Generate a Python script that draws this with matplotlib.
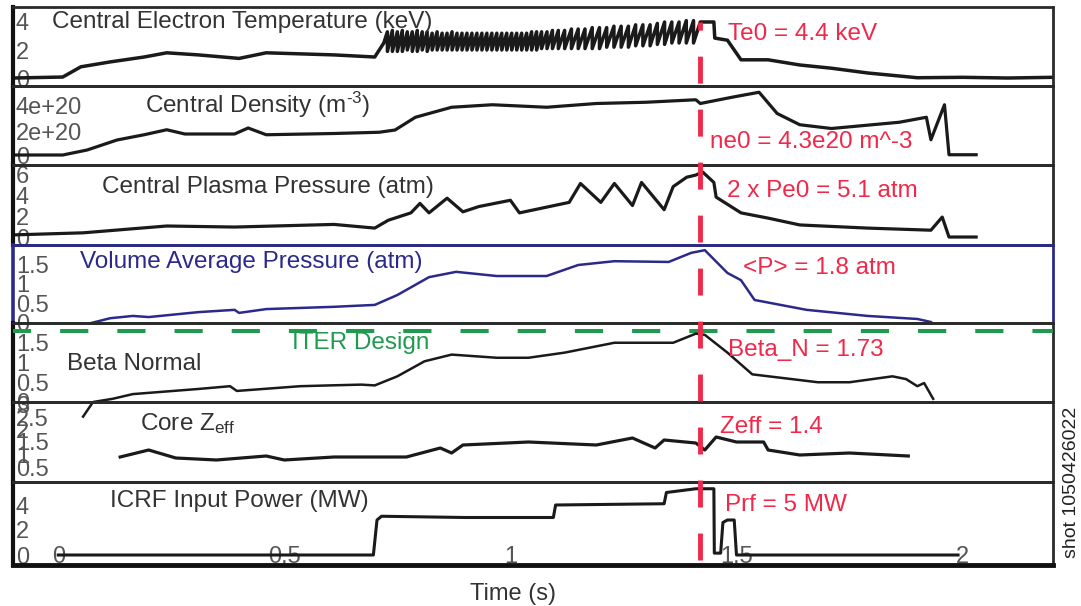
import matplotlib
matplotlib.use("Agg")
import matplotlib.pyplot as plt
import matplotlib.transforms as mtransforms
from matplotlib.lines import Line2D

plt.rcParams['font.family'] = ['Liberation Sans', 'DejaVu Sans']
plt.rcParams['mathtext.fontset'] = 'custom'
plt.rcParams['mathtext.rm'] = 'Liberation Sans'
plt.rcParams['mathtext.default'] = 'regular'

# ---- data (time in s) ----
# central electron temperature (keV): ohmic part, sawteeth, decay
te_pre_t = [-0.1, 0.01, 0.05, 0.115, 0.19, 0.24, 0.31, 0.40, 0.46, 0.61, 0.70, 0.72]
te_pre = [0.0, 0.07, 0.8, 1.15, 1.5, 1.8, 1.65, 1.4, 1.8, 1.65, 1.5, 2.5]
saw_t = [0.728, 0.739, 0.750, 0.761, 0.772, 0.783, 0.794, 0.805, 0.816, 0.827,
         0.838, 0.849, 0.860, 0.871, 0.882, 0.893, 0.904, 0.915, 0.926, 0.937,
         0.948, 0.959, 0.970, 0.981, 0.992, 1.003, 1.014, 1.025, 1.036, 1.047,
         1.058, 1.069, 1.081, 1.093, 1.106, 1.120, 1.135, 1.150, 1.165, 1.181,
         1.197, 1.213, 1.229, 1.245, 1.261, 1.277, 1.293, 1.309, 1.325, 1.341,
         1.357, 1.373, 1.389, 1.405]
saw_top = [3.3, 3.4, 3.3, 3.4, 3.3, 3.3, 3.4, 3.3, 3.3, 3.2,
           3.3, 3.2, 3.2, 3.3, 3.2, 3.2, 3.2, 3.2, 3.2, 3.2,
           3.2, 3.2, 3.2, 3.2, 3.2, 3.2, 3.2, 3.2, 3.2, 3.3,
           3.3, 3.3, 3.3, 3.4, 3.4, 3.4, 3.5, 3.5, 3.5, 3.6,
           3.6, 3.6, 3.7, 3.7, 3.7, 3.8, 3.8, 3.8, 3.9, 4.0,
           4.0, 4.0, 4.1, 4.1]
saw_bot = [1.9, 1.9, 1.9, 1.9, 2.0, 1.9, 1.9, 2.0, 1.9, 2.0,
           2.0, 2.0, 2.0, 2.0, 2.0, 2.0, 2.0, 2.0, 2.0, 2.0,
           2.0, 2.0, 2.0, 2.0, 2.0, 2.0, 2.0, 2.0, 2.0, 2.0,
           2.0, 2.1, 2.1, 2.1, 2.1, 2.1, 2.1, 2.1, 2.1, 2.1,
           2.1, 2.2, 2.2, 2.2, 2.2, 2.3, 2.3, 2.3, 2.4, 2.4,
           2.5, 2.5, 2.5, 2.5]
te_post_t = [1.42, 1.45, 1.452, 1.48, 1.51, 1.57, 1.64, 1.71, 1.79, 1.90, 2.0, 2.1, 2.2]
te_post = [4.0, 4.0, 2.85, 2.7, 1.3, 1.3, 0.93, 0.7, 0.36, 0.02, 0.05, 0.0, 0.05]

# central density (1e20 m^-3)
ne_t = [-0.1, 0.01, 0.064, 0.13, 0.19, 0.24, 0.28, 0.39, 0.42, 0.46, 0.61, 0.71,
        0.745, 0.79, 0.87, 0.96, 1.08, 1.19, 1.30, 1.41, 1.42, 1.49, 1.55, 1.59,
        1.64, 1.71, 1.86, 1.92, 1.93, 1.96, 1.97, 2.03]
ne = [0.08, 0.08, 0.48, 1.28, 1.7, 2.1, 1.76, 1.76, 2.24, 1.7, 1.8, 1.9,
      2.08, 3.1, 3.9, 4.1, 3.9, 4.2, 4.3, 4.5, 4.2, 4.7, 5.1, 3.4,
      2.5, 2.2, 2.7, 3.1, 1.3, 4.1, 0.1, 0.1]

# central plasma pressure (atm)
pe_t = [-0.1, 0.055, 0.24, 0.39, 0.61, 0.70, 0.73, 0.78, 0.80, 0.82, 0.86, 0.895,
        0.93, 1.00, 1.02, 1.13, 1.155, 1.20, 1.23, 1.27, 1.29, 1.34, 1.36, 1.39,
        1.41, 1.425, 1.45, 1.455, 1.51, 1.57, 1.64, 1.79, 1.93, 1.955, 1.97, 2.03]
pe = [0.2, 0.4, 1.05, 0.95, 1.2, 0.85, 1.6, 2.3, 3.2, 2.3, 3.7, 2.4,
      2.9, 3.5, 2.3, 3.3, 5.1, 3.3, 5.1, 3.0, 5.2, 2.6, 4.8, 5.7,
      5.9, 6.2, 5.2, 3.8, 2.3, 1.8, 1.15, 0.85, 0.65, 1.9, 0.0, 0.0]

# volume average pressure (atm)
pav_t = [0.055, 0.115, 0.165, 0.20, 0.31, 0.39, 0.40, 0.46, 0.61, 0.70, 0.75, 0.82,
         0.88, 0.97, 1.08, 1.15, 1.23, 1.35, 1.40, 1.43, 1.48, 1.51, 1.54, 1.655,
         1.79, 1.90, 1.93]
pav = [-0.08, 0.1, 0.16, 0.13, 0.26, 0.32, 0.24, 0.34, 0.4, 0.45, 0.71, 1.18,
       1.32, 1.21, 1.21, 1.5, 1.6, 1.58, 1.82, 1.89, 1.29, 1.1, 0.58, 0.32,
       0.16, 0.08, 0.0]

# beta normal
bn_t = [0.055, 0.077, 0.12, 0.165, 0.31, 0.38, 0.395, 0.535, 0.60, 0.67, 0.70, 0.75,
        0.81, 0.87, 0.97, 1.04, 1.12, 1.23, 1.36, 1.41, 1.43, 1.48, 1.535, 1.68,
        1.75, 1.845, 1.875, 1.90, 1.915, 1.935]
bn = [-0.37, 0.0, 0.08, 0.2, 0.33, 0.4, 0.28, 0.4, 0.42, 0.44, 0.42, 0.65,
      1.03, 1.2, 1.12, 1.12, 1.25, 1.5, 1.5, 1.73, 1.7, 1.25, 0.7, 0.5,
      0.5, 0.65, 0.58, 0.4, 0.48, 0.08]
iter_design = 1.8

# core Zeff
zf_t = [0.137, 0.20, 0.26, 0.35, 0.46, 0.50, 0.61, 0.77, 0.845, 0.87, 0.895, 1.04,
        1.19, 1.27, 1.32, 1.34, 1.41, 1.43, 1.455, 1.50, 1.56, 1.57, 1.64, 1.75, 1.88]
zf = [0.9, 1.18, 0.86, 0.78, 0.94, 0.78, 0.9, 0.9, 1.26, 1.06, 1.38, 1.5,
      1.38, 1.66, 1.26, 1.58, 1.46, 1.18, 1.7, 1.5, 1.5, 1.18, 0.98, 1.06, 0.94]

# ICRF power (MW)
rf_t = [0.0, 0.697, 0.705, 0.715, 0.90, 1.095, 1.10, 1.34, 1.345, 1.41, 1.45,
        1.451, 1.465, 1.47, 1.48, 1.495, 1.50, 1.99]
rf = [0, 0, 2.8, 3.1, 3.0, 3.0, 4.0, 4.1, 5.0, 5.3, 5.3,
      0.15, 0.15, 2.6, 2.8, 2.8, 0, 0]

t_peak = 1.42

# build the sawtooth trace from the crash list
te_t = list(te_pre_t)
te = list(te_pre)
for t, hi, lo in zip(saw_t, saw_top, saw_bot):
    te_t += [t, t]
    te += [hi, lo]
te_t += te_post_t
te += te_post

# ---- layout ----
W, H = 1081, 606
fig = plt.figure(figsize=(W / 100, H / 100), dpi=100)
LEFT, RIGHT = 13, 1053
edges = [7, 86, 165, 245, 323, 402, 482, 565]

TXT = '#333333'
TICK = '#555555'
RED = '#f0284a'
GREEN = '#1f9a4f'
NAVY = '#2b2a8c'
FS = 17
FS_T = 17.5

axes = []
for i in range(7):
    top, bot = edges[i], edges[i + 1]
    ax = fig.add_axes([LEFT / W, 1 - bot / H, (RIGHT - LEFT) / W, (bot - top) / H])
    ax.patch.set_alpha(0)
    ax.set_xlim(-0.1, 2.2)
    ax.set_xticks([])
    for s in ax.spines.values():
        s.set_linewidth(2.0)
        s.set_color('#2a2a2a')
    ax.spines['left'].set_linewidth(3.0)
    ax.spines['left'].set_color('#111111')
    ax.tick_params(axis='y', length=0, pad=-2, labelsize=FS, labelcolor=TICK)
    axes.append(ax)

ylims = [(-0.57, 5.07), (-0.72, 5.6), (-0.76, 6.86), (-0.026, 2.026),
         (0.025, 2.0), (-0.1, 3.1), (-0.8, 5.84)]
yticks = [[0, 2, 4], [0, 2, 4], [0, 2, 4, 6], [0, 0.5, 1, 1.5],
          [0, 0.5, 1, 1.5], [0.5, 1, 1.5, 2, 2.5, 3], [0, 2, 4]]
ylabels = [['0', '2', '4'], ['0', '2e+20', '4e+20'], ['0', '2', '4', '6'],
           ['0', '0.5', '1', '1.5'], ['0', '0.5', '1', '1.5'],
           ['0.5', '1', '1.5', '2', '2.5', '3'], ['0', '2', '4']]
for ax, lim, tk, lb in zip(axes, ylims, yticks, ylabels):
    ax.set_ylim(*lim)
    ax.set_yticks(tk)
    ax.set_yticklabels(lb)
    for lab in ax.get_yticklabels():
        lab.set_ha('left')

# small outside tick at zero on density and pressure panels
for ax in (axes[1], axes[2]):
    ax.set_yticks([0], minor=True)
    ax.tick_params(axis='y', which='minor', length=7, width=1.3, direction='out', color='#111111')

# volume-average panel framed in navy
for side in ('top', 'left', 'right'):
    axes[3].spines[side].set_color(NAVY)
axes[3].spines['left'].set_linewidth(2.6)
axes[6].spines['bottom'].set_linewidth(3.5)
axes[6].spines['bottom'].set_color('#111111')

# traces
axes[0].plot(te_t, te, color='#1a1a1a', lw=2.5)
axes[1].plot(ne_t, ne, color='#1a1a1a', lw=2.3)
axes[2].plot(pe_t, pe, color='#1a1a1a', lw=2.3)
axes[3].plot(pav_t, pav, color=NAVY, lw=1.8)
axes[4].plot(bn_t, bn, color='#1a1a1a', lw=1.8, clip_on=False, zorder=5)
axes[4].axhline(iter_design, color=GREEN, lw=2.9, linestyle=(2.5, (7.0, 7.2)), zorder=4)
axes[5].plot(zf_t, zf, color='#1a1a1a', lw=2.3)
axes[6].plot(rf_t, rf, color='#1a1a1a', lw=2.2)

# bottom time axis labels sit inside the last panel
axes[6].set_xticks([0, 0.5, 1, 1.5, 2])
axes[6].set_xticklabels(['0', '0.5', '1', '1.5', '2'])
axes[6].tick_params(axis='x', length=0, pad=-14, labelsize=FS, labelcolor=TICK)

# panel titles (axes x fraction, baseline y fraction)
titles = [
    (0, 0.0375, 0.734, 'Central Electron Temperature (keV)', TXT),
    (1, 0.127, 0.658, r'Central Density (m$^{\text{-3}}$)', TXT),
    (2, 0.0856, 0.65, 'Central Plasma Pressure (atm)', TXT),
    (3, 0.0644, 0.705, 'Volume Average Pressure (atm)', NAVY),
    (4, 0.052, 0.41, 'Beta Normal', TXT),
    (4, 0.268, 0.667, 'ITER Design', GREEN),
    (5, 0.122, 0.65, 'Core Z$_{eff}$', TXT),
    (6, 0.093, 0.70, 'ICRF Input Power (MW)', TXT),
]
for i, x, y, s, c in titles:
    axes[i].text(x, y, s, transform=axes[i].transAxes, fontsize=FS_T, color=c,
                 ha='left', va='baseline')

notes = [
    (0, 0.6875, 0.58, 'Te0 = 4.4 keV'),
    (1, 0.670, 0.215, 'ne0 = 4.3e20 m^-3'),
    (2, 0.6865, 0.60, '2 x Pe0 = 5.1 atm'),
    (3, 0.702, 0.628, '<P> = 1.8 atm'),
    (4, 0.6875, 0.577, 'Beta_N = 1.73'),
    (5, 0.68, 0.61, 'Zeff = 1.4'),
    (6, 0.6846, 0.65, 'Prf = 5 MW'),
]
for i, x, y, s in notes:
    axes[i].text(x, y, s, transform=axes[i].transAxes, fontsize=FS_T, color=RED,
                 ha='left', va='baseline', zorder=6)

# red dashed marker at the time of peak performance, across all panels
trans = mtransforms.blended_transform_factory(axes[6].transData, fig.transFigure)
fig.add_artist(Line2D([t_peak, t_peak], [1 - 560 / H, 1 - 22 / H], transform=trans,
                      color=RED, lw=3.5, linestyle=(0, (5.55, 5.35)), zorder=10))

fig.text(513 / W, 1 - 600 / H, 'Time (s)', fontsize=FS, color=TXT, ha='center', va='baseline')
fig.text(1072 / W, 1 - 482 / H, 'shot 1050426022', fontsize=14, color='#222222',
         rotation=90, ha='center', va='center')

fig.savefig('out.png', dpi=100, facecolor='white')
